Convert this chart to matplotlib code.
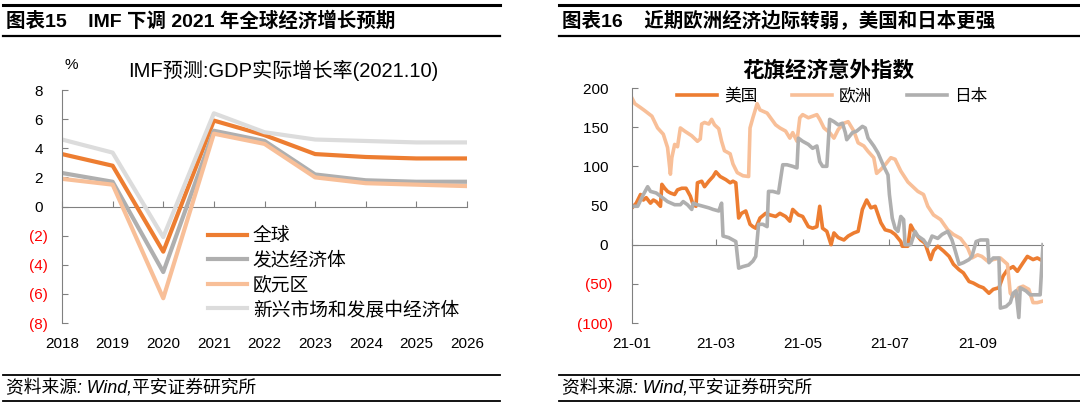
import matplotlib.pyplot as plt
import matplotlib.dates as mdates
from matplotlib.lines import Line2D
import pandas as pd

plt.rcParams['font.family'] = ['Liberation Sans', 'Noto Sans CJK SC', 'DejaVu Sans']
plt.rcParams['axes.unicode_minus'] = False

# ---- left chart: IMF forecast (%)
years = [2018, 2019, 2020, 2021, 2022, 2023, 2024, 2025, 2026]
world = [3.6, 2.8, -3.1, 5.9, 4.9, 3.6, 3.4, 3.3, 3.3]
advanced = [2.3, 1.7, -4.5, 5.2, 4.5, 2.2, 1.8, 1.7, 1.7]
euro_area = [1.9, 1.5, -6.3, 5.0, 4.3, 2.0, 1.6, 1.5, 1.4]
emerging = [4.6, 3.7, -2.1, 6.4, 5.1, 4.6, 4.5, 4.4, 4.4]
left_names = ['全球', '发达经济体', '欧元区', '新兴市场和发展中经济体']

# ---- right chart: Citi economic surprise index, day offsets from 2021-01-01
us_day = [0, 3, 6, 8, 10, 13, 15, 17, 20, 21, 23, 25, 27, 30, 32, 35, 38, 41, 43, 45,
          46, 49, 51, 54, 57, 59, 62, 64, 66, 69, 71, 73, 75, 77, 80, 83, 85, 87, 90, 94,
          97, 101, 104, 108, 111, 113, 117, 120, 124, 127, 130, 132, 134, 137, 140, 142,
          145, 149, 152, 156, 159, 162, 165, 168, 171, 175, 178, 182, 185, 189, 190, 194,
          196, 199, 203, 206, 210, 212, 215, 219, 223, 226, 230, 233, 237, 240, 244, 247,
          251, 254, 258, 261, 264, 268, 271, 275, 278, 282, 285, 289]
us_val = [47, 53, 64, 57, 60, 53, 57, 55, 49, 77, 72, 68, 66, 64, 70, 72, 72, 62, 51, 49,
          79, 81, 74, 81, 87, 93, 87, 85, 83, 79, 81, 79, 34, 40, 43, 26, 23, 21, 34, 40,
          38, 36, 40, 36, 30, 45, 38, 36, 23, 21, 23, 49, 21, 17, 0, 15,
          9, 6, 11, 15, 17, 45, 57, 47, 49, 28, 19, 17, 13, 4, -2, -2,
          25, 15, 6, 2, -19, -8, -2, -8, -15, -25, -32, -36, -47, -49, -53, -55,
          -62, -57, -55, -40, -32, -28, -34, -23, -15, -19, -17, -21]

eu_day = [0, 2, 6, 9, 14, 18, 22, 25, 27, 28, 30, 32, 34, 37, 42, 46, 48, 49, 51, 54,
          56, 58, 61, 63, 65, 69, 71, 74, 78, 82, 83, 85, 88, 90, 95, 101, 104, 108, 111,
          113, 116, 118, 120, 124, 127, 130, 132, 135, 139, 142, 145, 149, 152, 156, 159,
          163, 166, 170, 172, 175, 178, 182, 185, 189, 194, 201, 205, 208, 212, 217, 222,
          226, 231, 236, 239, 243, 246, 250, 254, 259, 264, 266, 268, 272, 275, 279, 282,
          285, 289]
eu_val = [187, 180, 175, 171, 164, 149, 141, 124, 90, 111, 128, 125, 149, 145, 139, 132,
          135, 154, 156, 154, 160, 153, 148, 132, 120, 116, 103, 92, 88, 87, 149, 162, 180,
          172, 168, 153, 149, 145, 136, 143, 132, 162, 166, 162, 164, 166, 160, 149, 143,
          136, 147, 155, 157, 145, 130, 126, 119, 111, 91, 96, 102, 111, 109, 94, 80, 68,
          64, 49, 38, 32, 19, 13, 8, -4, -17, -13, -15, -21, -19, -17, -25, -62, -66, -55,
          -53, -57, -74, -74, -72]

jp_day = [0, 4, 8, 11, 13, 17, 20, 25, 30, 34, 36, 39, 42, 43, 46, 50, 54, 57, 61, 63,
          64, 68, 71, 73, 75, 78, 82, 85, 87, 89, 92, 95, 96, 99, 103, 106, 109, 113, 116,
          117, 120, 124, 127, 130, 132, 134, 137, 139, 142, 145, 148, 150, 151, 155, 158,
          162, 164, 166, 170, 173, 177, 180, 181, 183, 185, 187, 189, 191, 192, 196, 199,
          201, 205, 208, 211, 215, 218, 222, 225, 227, 230, 233, 237, 239, 242, 245, 250,
          251, 254, 258, 259, 263, 266, 268, 270, 272, 273, 277, 280, 284, 287, 289]
jp_val = [49, 49, 64, 74, 68, 66, 62, 55, 51, 51, 55, 51, 45, 53, 51, 49, 47, 45, 43, 53,
          11, 9, 6, 4, -30, -28, -26, -21, -15, 26, 26, 23, 68, 68, 66, 102, 102, 100, 98,
          136, 132, 128, 123, 126, 106, 100, 100, 160, 157, 153, 155, 143, 134, 143, 145,
          151, 149, 136, 126, 117, 100, 89, 64, 34, 21, 17, 36, 32, 0, 0, 17,
          11, 6, -2, 11, 8, 13, 17, 6, -6, -25, -23, -19, -15, 4, 6, 6,
          -23, -17, -17, -81, -79, -74, -62, -59, -93, -55, -59, -64, -64, -64, 0]
right_names = ['美国', '欧洲', '日本']

start = pd.Timestamp('2021-01-01')
month_ticks = pd.to_datetime(['2021-01-01', '2021-03-01', '2021-05-01', '2021-07-01', '2021-09-01'])

ORANGE = '#ED7D31'
GRAY = '#AFAFAF'
LIGHT_ORANGE = '#F8BF98'
LIGHT_GRAY = '#DCDCDC'
AXIS = '#808080'
RED = '#FF0000'


def paren_labels(values):
    return [f'({abs(v)})' if v < 0 else f'{v} ' for v in values]


def style_axes(ax, yticks):
    for side in ['top', 'right', 'bottom']:
        ax.spines[side].set_visible(False)
    ax.spines['left'].set_color(AXIS)
    ax.set_yticks(yticks)
    ax.set_yticklabels(paren_labels(yticks))
    for lab, v in zip(ax.get_yticklabels(), yticks):
        lab.set_color(RED if v < 0 else 'black')
    ax.tick_params(axis='y', direction='in', length=4, color=AXIS, labelsize=11, pad=10)
    ax.tick_params(axis='x', length=0, labelsize=11, pad=10)
    # zero line with upward ticks
    sec = ax.secondary_xaxis(0, transform=ax.transData)
    sec.set_alignment('bottom')
    sec.spines['bottom'].set_color(AXIS)
    sec.tick_params(direction='in', length=4, color=AXIS, labelbottom=False, labeltop=False)
    return sec


def header(fig, x0, x1, title):
    W, H = 1080, 408
    for y, lw in [(5, 2.2), (36, 1.6), (375, 1.3), (401, 1.3)]:
        fig.add_artist(Line2D([x0 / W, x1 / W], [1 - y / H, 1 - y / H], color='black',
                              lw=lw, transform=fig.transFigure))
    fig.text((x0 + 3) / W, 1 - 21 / H, title, fontsize=14, fontweight='bold', va='center')
    fig.text((x0 + 3) / W, 1 - 388 / H, '资料来源: Wind,平安证券研究所', fontsize=12.8,
             style='italic', va='center')


fig = plt.figure(figsize=(10.8, 4.08), dpi=100)

# ---------------- left
ax1 = fig.add_axes([62 / 1080, 85 / 408, 405 / 1080, 233 / 408])
ax1.plot(years, world, color=ORANGE, lw=3, label=left_names[0])
ax1.plot(years, advanced, color=GRAY, lw=3, label=left_names[1])
ax1.plot(years, euro_area, color=LIGHT_ORANGE, lw=3, label=left_names[2])
ax1.plot(years, emerging, color=LIGHT_GRAY, lw=3, label=left_names[3])
ax1.set_xlim(2018, 2026)
ax1.set_ylim(-8, 8)
sec1 = style_axes(ax1, list(range(-8, 9, 2)))
ax1.set_xticks(years)
sec1.set_xticks(years)
ax1.legend(loc='upper left', bbox_to_anchor=(0.36, 0.408), frameon=False, fontsize=13.5,
           handlelength=2.1, handletextpad=0.3, labelspacing=0.36, borderpad=0, borderaxespad=0)
fig.text(71 / 1080, 1 - 65 / 408, '%', fontsize=11, ha='center', va='center')
fig.text(283 / 1080, 1 - 70 / 408, 'IMF预测:GDP实际增长率(2021.10)', fontsize=14.5,
         ha='center', va='center')
header(fig, 3, 500, '图表15    IMF 下调 2021 年全球经济增长预期')

# ---------------- right
ax2 = fig.add_axes([632 / 1080, 85 / 408, 411 / 1080, 235 / 408])
ax2.plot(start + pd.to_timedelta(us_day, unit='D'), us_val, color=ORANGE, lw=2.6,
         label=right_names[0])
ax2.plot(start + pd.to_timedelta(eu_day, unit='D'), eu_val, color=LIGHT_ORANGE, lw=2.6,
         label=right_names[1])
ax2.plot(start + pd.to_timedelta(jp_day, unit='D'), jp_val, color=GRAY, lw=2.6,
         label=right_names[2])
ax2.set_xlim(start, start + pd.Timedelta(days=max(us_day)))
ax2.set_ylim(-100, 200)
sec2 = style_axes(ax2, list(range(-100, 201, 50)))
ax2.set_xticks(month_ticks)
ax2.xaxis.set_major_formatter(mdates.DateFormatter('%y-%m'))
sec2.set_xticks(mdates.date2num(month_ticks))
ax2.tick_params(axis='y', pad=14)
ax2.legend(loc='upper left', bbox_to_anchor=(0.11, 1.0), ncol=3, frameon=False, fontsize=12,
           handlelength=2.4, handletextpad=0.4, columnspacing=2.1, borderpad=0, borderaxespad=0)
fig.text(828 / 1080, 1 - 71 / 408, '花旗经济意外指数', fontsize=15.5, fontweight='bold',
         ha='center', va='center')
header(fig, 559, 1080, '图表16    近期欧洲经济边际转弱，美国和日本更强')

fig.savefig('out.png', dpi=100)
